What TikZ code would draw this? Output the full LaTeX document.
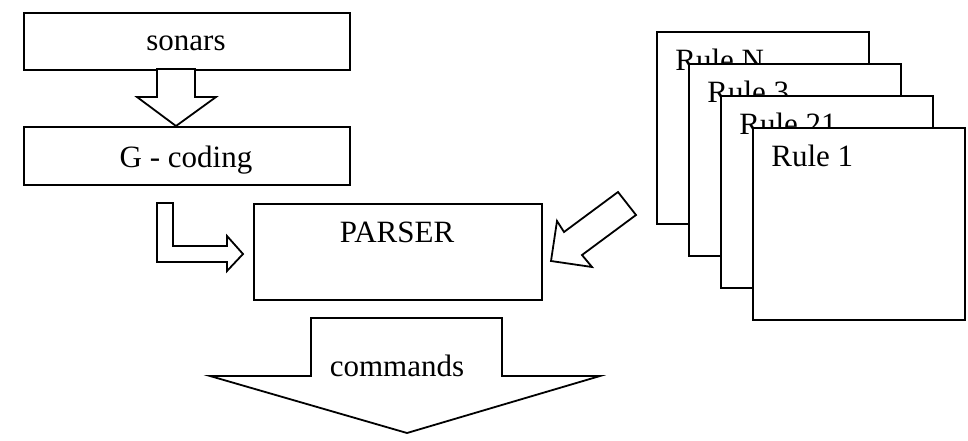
\documentclass[tikz,border=0pt]{standalone}
\usepackage{fontspec}
\setmainfont{Liberation Serif}
\begin{document}
\begin{tikzpicture}[x=0.5pt,y=-0.5pt,
  box/.style={draw, fill=white, line width=0.9pt, inner sep=0pt, anchor=north west},
  txt/.style={font=\fontsize{15.5}{18}\selectfont, inner sep=0pt},
  blockarrow/.style={draw, fill=white, line width=0.9pt, line join=miter}]
\useasboundingbox (0,0) rectangle (968,440);
% left boxes
\node[box, minimum width=163pt, minimum height=28.5pt] (sonars) at (23,12) {};
\node[txt, anchor=base] (sonarsT) at (186,50) {sonars};
\node[box, minimum width=163pt, minimum height=29pt] (gcoding) at (23,126) {};
\node[txt, anchor=base] (gcodingT) at (186,167) {G - coding};
\node[box, minimum width=144pt, minimum height=48pt] (parser) at (253,203) {};
\node[txt, anchor=base] (parserT) at (397,242) {PARSER};
% rule stack
\node[box, minimum width=106pt, minimum height=96pt] (ruleN) at (656,31) {};
\node[txt, anchor=base west] (ruleNT) at (675,70) {Rule N};
\node[box, minimum width=106pt, minimum height=96pt] (rule3) at (688,63) {};
\node[txt, anchor=base west] (rule3T) at (707,102) {Rule 3};
\node[box, minimum width=106pt, minimum height=96pt] (rule21) at (720,95) {};
\node[txt, anchor=base west] (rule21T) at (739,134) {Rule 21};
\node[box, minimum width=106pt, minimum height=96pt] (rule1) at (752,127) {};
\node[txt, anchor=base west] (rule1T) at (771,166) {Rule 1};
% block arrows
\draw[blockarrow] (157,69) -- (157,97) -- (137,97) -- (176,126) -- (216,97) -- (195,97) -- (195,69) -- cycle;
\draw[blockarrow] (157,203) -- (157,262) -- (227,262) -- (227,271) -- (243,254) -- (227,236) -- (227,246) -- (173,246) -- (173,203) -- cycle;
\draw[blockarrow] (551,261) -- (557,221) -- (564,232) -- (618,192) -- (636,215) -- (582,255) -- (592,267) -- cycle;
\draw[blockarrow] (311,318) -- (502,318) -- (502,376) -- (600,376) -- (407,433) -- (210,376) -- (311,376) -- cycle;
\node[txt, anchor=base] (commandsT) at (397,376) {commands};
\end{tikzpicture}
\end{document}
